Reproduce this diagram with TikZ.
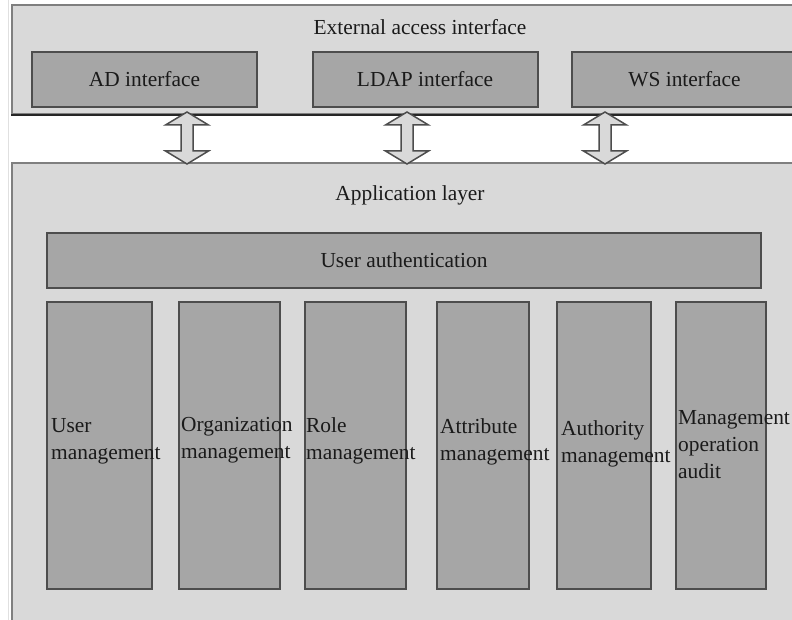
\documentclass[tikz,border=0pt]{standalone}
\usepackage{fontspec}
\setmainfont{Liberation Serif}
\definecolor{panelgray}{HTML}{D9D9D9}
\definecolor{boxgray}{HTML}{A6A6A6}
\definecolor{edgegray}{HTML}{4D4D4D}
\definecolor{rimgray}{HTML}{7F7F7F}
\definecolor{inkgray}{HTML}{1A1A1A}
\begin{document}
\begin{tikzpicture}
  [x=1pt,y=-1pt,
   panel/.style={rectangle,draw=rimgray,fill=panelgray,line width=2pt,inner sep=0pt},
   block/.style={rectangle,draw=edgegray,fill=boxgray,line width=2pt,inner sep=0pt,
                 minimum width=225pt,minimum height=55pt,text=inkgray},
   column/.style={rectangle,draw=edgegray,fill=boxgray,line width=2pt,
                  minimum height=287pt,inner sep=0pt},
   colname/.style={anchor=west,align=left,inner sep=0pt,text=inkgray},
   title/.style={inner sep=0pt,text=inkgray},
   hollowarrow/.style={draw=edgegray,fill=panelgray,line width=1.5pt,line join=miter}]
\useasboundingbox (0,0) rectangle (792,620);
\clip (0,0) rectangle (792,620);
\fill[white] (0,0) rectangle (792,620);
\draw[black!12, line width=1pt] (8,0) -- (8,620); % page edge
\tikzset{every node/.append style={font=\fontsize{21.4}{27}\selectfont}}
% external access interface
\node at (421,59.5) (ext) [panel, minimum width=818pt, minimum height=109pt] {};
\node at (420,27) (exttitle) [title] {External access interface};
\node at (144.5,79.5) (ad) [block] {AD interface};
\node at (425,79.5) (ldap) [block] {LDAP interface};
\node at (684.5,79.5) (ws) [block] {WS interface};
\draw[black!85, line width=1.5pt] (ext.south west) -- (ext.south east);
% application layer
\node at (421,412) (app) [panel, minimum width=818pt, minimum height=498pt] {};
\node at (410,195) (apptitle) [title] {Application layer};
\node at (404,260.5) (userauth) [block, minimum width=714pt] {User authentication};
%
\node at (99.5,445.5) (usermgmt) [column, minimum width=105pt] {};
\node at (229.5,445.5) (orgmgmt) [column, minimum width=101pt] {};
\node at (355.5,445.5) (rolemgmt) [column, minimum width=101pt] {};
\node at (483,445.5) (attrmgmt) [column, minimum width=92pt] {};
\node at (604,445.5) (authmgmt) [column, minimum width=94pt] {};
\node at (721,445.5) (auditmgmt) [column, minimum width=90pt] {};
%
\node at ([xshift=5pt,yshift=4pt]usermgmt.west) (userlbl) [colname] {User\\management};
\node at ([xshift=3pt,yshift=5pt]orgmgmt.west) (orglbl) [colname] {Organization\\management};
\node at ([xshift=2pt,yshift=5pt]rolemgmt.west) (rolelbl) [colname] {Role\\management};
\node at ([xshift=4pt,yshift=4pt]attrmgmt.west) (attrlbl) [colname] {Attribute\\management};
\node at ([xshift=5pt,yshift=2pt]authmgmt.west) (authlbl) [colname] {Authority\\management};
\node at ([xshift=3pt,yshift=1pt]auditmgmt.west) (auditlbl) [colname] {Management\\operation\\audit};
% two-way arrows between the layers
\foreach \x in {187,407,605}
  \draw[hollowarrow] (\x,0 |- ext.south) ++(0,-3)
    -- ++(21.5,13) -- ++(-15.5,0) -- ++(0,26) -- ++(15.5,0)
    -- ++(-21.5,13) -- ++(-21.5,-13) -- ++(15.5,0) -- ++(0,-26)
    -- ++(-15.5,0) -- cycle;
\end{tikzpicture}
\end{document}
